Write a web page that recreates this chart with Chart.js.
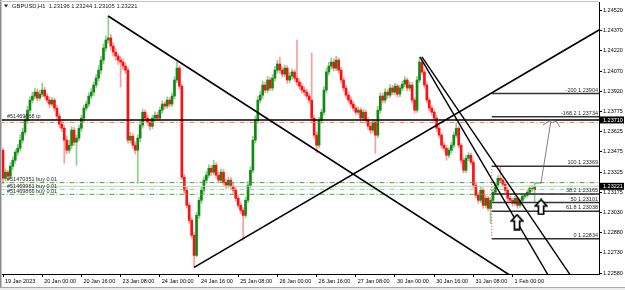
<!DOCTYPE html>
<html>
<head>
<meta charset="utf-8">
<script src="https://cdn.jsdelivr.net/npm/chart.js@4.4.0/dist/chart.umd.min.js"></script>
<style>
  html, body { margin: 0; padding: 0; background: #fff; }
</style>
</head>
<body>
<canvas id="chart" width="625" height="290"></canvas>
<script>
const symbolTitle = "GBPUSD,H1";
const lastQuote = [1.23196, 1.23244, 1.23105, 1.23221];

// H1 bars, 19 Jan 2023 08:00 .. 1 Feb 2023 09:00
const opens = [
  1.23487,1.23280,1.23325,1.23295,1.23369,1.23413,1.23472,1.23502,1.23561,1.23620,
  1.23708,1.23782,1.23856,1.23886,1.23915,1.23871,1.23900,1.23930,1.23886,1.23856,
  1.23827,1.23856,1.23797,1.23738,1.23679,1.23649,1.23561,1.23487,1.23524,1.23635,
  1.23546,1.23576,1.23649,1.23723,1.23797,1.23827,1.23886,1.23915,1.23967,1.24018,
  1.24077,1.24151,1.24240,1.24299,1.24314,1.24254,1.24210,1.24181,1.24151,1.24136,
  1.24107,1.24077,1.23561,1.23590,1.23524,1.23487,1.23576,1.23672,1.23767,1.23723,
  1.23694,1.23664,1.23723,1.23745,1.23723,1.23782,1.23827,1.23812,1.23856,1.23827,
  1.23886,1.24004,1.24092,1.23959,1.23288,1.23192,1.23081,1.22970,1.22860,1.22712,
  1.23007,1.23118,1.23192,1.23266,1.23303,1.23354,1.23325,1.23376,1.23303,1.23266,
  1.23325,1.23251,1.23229,1.23266,1.23221,1.23192,1.23133,1.23081,1.23044,1.23007,
  1.23118,1.23229,1.23339,1.23561,1.23708,1.23856,1.23893,1.23967,1.23930,1.24004,
  1.23945,1.24018,1.24077,1.24122,1.24077,1.24048,1.24092,1.24004,1.24033,1.24063,
  1.24018,1.23989,1.23959,1.23930,1.23915,1.23886,1.23856,1.23723,1.23598,1.23524,
  1.23708,1.23767,1.23930,1.24063,1.24107,1.24136,1.24092,1.24151,1.24077,1.24004,
  1.23945,1.23893,1.23856,1.23827,1.23797,1.23767,1.23782,1.23723,1.23767,1.23708,
  1.23664,1.23635,1.23694,1.23598,1.23782,1.23886,1.23856,1.23915,1.23893,1.23945,
  1.23915,1.23959,1.23900,1.23945,1.23974,1.24004,1.23945,1.23967,1.23856,1.23782,
  1.24004,1.24136,1.24063,1.23967,1.23856,1.23797,1.23767,1.23723,1.23649,1.23598,
  1.23524,1.23502,1.23450,1.23487,1.23524,1.23598,1.23649,1.23524,1.23413,1.23339,
  1.23428,1.23450,1.23398,1.23229,1.23155,1.23118,1.23192,1.23081,1.23133,1.23059,
  1.23118,1.23177,1.23229,1.23280,1.23266,1.23236,1.23192,1.23133,1.23118,1.23096,
  1.23133,1.23081,1.23118,1.23148,1.23155,1.23177,1.23207,1.23196
];
const highs = [
  1.23500,1.23350,1.23340,1.23395,1.23440,1.23490,1.23530,1.23600,1.23650,1.23740,
  1.23810,1.23880,1.23915,1.23945,1.23940,1.23930,1.23981,1.23950,1.23905,1.23880,
  1.23875,1.23870,1.23820,1.23760,1.23700,1.23670,1.23590,1.23560,1.23660,1.23655,
  1.23600,1.23670,1.23745,1.23820,1.23850,1.23910,1.23940,1.23990,1.24045,1.24110,
  1.24180,1.24270,1.24330,1.24476,1.24340,1.24280,1.24235,1.24200,1.24175,1.24160,
  1.24130,1.24095,1.23620,1.23610,1.23550,1.23600,1.23700,1.23790,1.23785,1.23745,
  1.23720,1.23745,1.23770,1.23765,1.23805,1.23850,1.23845,1.23880,1.23875,1.23910,
  1.24030,1.24136,1.24110,1.23975,1.23310,1.23215,1.23100,1.22990,1.22880,1.23030,
  1.23140,1.23215,1.23290,1.23330,1.23380,1.23375,1.23413,1.23395,1.23325,1.23350,
  1.23345,1.23275,1.23290,1.23285,1.23245,1.23210,1.23155,1.23100,1.23065,1.23140,
  1.23255,1.23365,1.23590,1.23740,1.23885,1.23920,1.23995,1.23990,1.24030,1.24025,
  1.24045,1.24105,1.24150,1.24173,1.24100,1.24115,1.24110,1.24060,1.24085,1.24080,
  1.24299,1.24010,1.23980,1.23955,1.23935,1.23905,1.24203,1.23745,1.23620,1.23730,
  1.23790,1.23955,1.24090,1.24135,1.24165,1.24160,1.24180,1.24170,1.24100,1.24025,
  1.23965,1.23915,1.23880,1.23850,1.23815,1.23805,1.23800,1.23790,1.23785,1.23730,
  1.23685,1.23715,1.23710,1.23810,1.23910,1.23905,1.23940,1.23935,1.23970,1.23965,
  1.23980,1.23975,1.23965,1.23995,1.24030,1.24020,1.23990,1.23985,1.23875,1.24030,
  1.24173,1.24150,1.24080,1.23985,1.23875,1.23815,1.23785,1.23745,1.23670,1.23615,
  1.23545,1.23520,1.23505,1.23545,1.23620,1.23686,1.23665,1.23540,1.23430,1.23450,
  1.23470,1.23465,1.23415,1.23250,1.23175,1.23215,1.23210,1.23155,1.23150,1.23140,
  1.23200,1.23250,1.23300,1.23362,1.23285,1.23255,1.23210,1.23150,1.23135,1.23150,
  1.23145,1.23135,1.23165,1.23170,1.23195,1.23225,1.23225,1.23244
];
const lows = [
  1.23243,1.23260,1.23266,1.23275,1.23345,1.23390,1.23450,1.23480,1.23540,1.23600,
  1.23685,1.23760,1.23835,1.23865,1.23850,1.23855,1.23880,1.23865,1.23835,1.23800,
  1.23810,1.23775,1.23715,1.23655,1.23625,1.23391,1.23460,1.23465,1.23500,1.23520,
  1.23376,1.23555,1.23625,1.23700,1.23775,1.23805,1.23865,1.23890,1.23945,1.23995,
  1.24050,1.24125,1.24215,1.24275,1.24225,1.24180,1.24150,1.24120,1.23952,1.24080,
  1.24050,1.23539,1.23540,1.23500,1.23460,1.23243,1.23550,1.23650,1.23700,1.23670,
  1.23635,1.23645,1.23700,1.23705,1.23705,1.23760,1.23790,1.23795,1.23805,1.23810,
  1.23865,1.23985,1.23940,1.23270,1.23170,1.23060,1.22950,1.22840,1.22624,1.22700,
  1.22985,1.23095,1.23170,1.23245,1.23285,1.23300,1.23305,1.23280,1.23245,1.23250,
  1.23230,1.23205,1.23210,1.23200,1.23170,1.23110,1.23060,1.23020,1.22823,1.22990,
  1.23100,1.23210,1.23320,1.23540,1.23685,1.23835,1.23870,1.23910,1.23910,1.23925,
  1.23925,1.23995,1.24055,1.24055,1.24025,1.24030,1.23980,1.23985,1.24010,1.23995,
  1.23965,1.23935,1.23905,1.23890,1.23865,1.23835,1.23700,1.23575,1.23465,1.23505,
  1.23685,1.23745,1.23910,1.24040,1.24085,1.24070,1.24075,1.24055,1.23980,1.23920,
  1.23870,1.23835,1.23805,1.23775,1.23745,1.23750,1.23700,1.23705,1.23685,1.23640,
  1.23610,1.23615,1.23465,1.23580,1.23760,1.23835,1.23835,1.23870,1.23875,1.23895,
  1.23895,1.23880,1.23880,1.23925,1.23955,1.23925,1.23925,1.23835,1.23760,1.23765,
  1.23985,1.24045,1.23945,1.23835,1.23775,1.23745,1.23700,1.23625,1.23575,1.23500,
  1.23480,1.23413,1.23430,1.23465,1.23505,1.23580,1.23505,1.23390,1.23320,1.23320,
  1.23410,1.23380,1.23210,1.23135,1.23095,1.23100,1.23060,1.23065,1.23040,1.22948,
  1.23100,1.23160,1.23210,1.23245,1.23215,1.23175,1.23110,1.23100,1.23075,1.23080,
  1.23060,1.23065,1.23100,1.23130,1.23140,1.23160,1.23180,1.23105
];
const closes = [
  1.23280,1.23325,1.23295,1.23369,1.23413,1.23472,1.23502,1.23561,1.23620,1.23708,
  1.23782,1.23856,1.23886,1.23915,1.23871,1.23900,1.23930,1.23886,1.23856,1.23827,
  1.23856,1.23797,1.23738,1.23679,1.23649,1.23561,1.23487,1.23524,1.23635,1.23546,
  1.23576,1.23649,1.23723,1.23797,1.23827,1.23886,1.23915,1.23967,1.24018,1.24077,
  1.24151,1.24240,1.24299,1.24314,1.24254,1.24210,1.24181,1.24151,1.24136,1.24107,
  1.24077,1.23561,1.23590,1.23524,1.23487,1.23576,1.23672,1.23767,1.23723,1.23694,
  1.23664,1.23723,1.23745,1.23723,1.23782,1.23827,1.23812,1.23856,1.23827,1.23886,
  1.24004,1.24092,1.23959,1.23288,1.23192,1.23081,1.22970,1.22860,1.22712,1.23007,
  1.23118,1.23192,1.23266,1.23303,1.23354,1.23325,1.23376,1.23303,1.23266,1.23325,
  1.23251,1.23229,1.23266,1.23221,1.23192,1.23133,1.23081,1.23044,1.23007,1.23118,
  1.23229,1.23339,1.23561,1.23708,1.23856,1.23893,1.23967,1.23930,1.24004,1.23945,
  1.24018,1.24077,1.24122,1.24077,1.24048,1.24092,1.24004,1.24033,1.24063,1.24018,
  1.23989,1.23959,1.23930,1.23915,1.23886,1.23856,1.23723,1.23598,1.23524,1.23708,
  1.23767,1.23930,1.24063,1.24107,1.24136,1.24092,1.24151,1.24077,1.24004,1.23945,
  1.23893,1.23856,1.23827,1.23797,1.23767,1.23782,1.23723,1.23767,1.23708,1.23664,
  1.23635,1.23694,1.23598,1.23782,1.23886,1.23856,1.23915,1.23893,1.23945,1.23915,
  1.23959,1.23900,1.23945,1.23974,1.24004,1.23945,1.23967,1.23856,1.23782,1.24004,
  1.24136,1.24063,1.23967,1.23856,1.23797,1.23767,1.23723,1.23649,1.23598,1.23524,
  1.23502,1.23450,1.23487,1.23524,1.23598,1.23649,1.23524,1.23413,1.23339,1.23428,
  1.23450,1.23398,1.23229,1.23155,1.23118,1.23192,1.23081,1.23133,1.23059,1.23118,
  1.23177,1.23229,1.23280,1.23266,1.23236,1.23192,1.23133,1.23118,1.23096,1.23133,
  1.23081,1.23118,1.23148,1.23155,1.23177,1.23207,1.23196,1.23221
];

// axes
const timeTicks = [0, 16, 32, 48, 64, 80, 96, 112, 128, 144, 160, 176, 192, 208];
const timeLabels = ["19 Jan 2023", "20 Jan 00:00", "20 Jan 16:00", "23 Jan 08:00", "24 Jan 00:00",
  "24 Jan 16:00", "25 Jan 08:00", "26 Jan 00:00", "26 Jan 16:00", "27 Jan 08:00",
  "30 Jan 00:00", "30 Jan 16:00", "31 Jan 08:00", "1 Feb 00:00"];
const priceTicks = [1.24520, 1.24370, 1.24220, 1.24070, 1.23920, 1.23775, 1.23625,
  1.23475, 1.23325, 1.23175, 1.23030, 1.22880, 1.22730, 1.22580];
const priceMin = 1.22575, priceMax = 1.24579;
const barMin = -0.41, barMax = 243.27;

// order lines
const orderLabels = ["#51469868 tp", "#51470351 buy 0.01", "#51469961 buy 0.01", "#51469866 buy 0.01"];
const orderPrices = [1.23710, 1.23248, 1.23199, 1.23162];
const openLine = 1.23692;
const bidPrice = 1.23221;

// fibonacci
const fibNames = ["-200", "-168.2", "100", "38.2", "50", "61.8", "0"];
const fibPrices = [1.23904, 1.23734, 1.23369, 1.23165, 1.23101, 1.23038, 1.22834];
const fibStart = 199.5;

// trend lines [bar, price] pairs
const trendA = [[42.9, 1.24476], [208.3, 1.22550]];
const trendB = [[78, 1.22624], [245, 1.24391]];
const trendC1 = [[170.2, 1.24174], [223.05, 1.22550]];
const trendC2 = [[171.0, 1.24174], [232.2, 1.22550]];

// hand drawn arrow and arrow marks
const pathBars = [217.1, 219.6, 223.7];
const pathPrices = [1.23245, 1.23245, 1.23710];
const headBars = [220.4, 223.7, 226.1, 227.3];
const headPrices = [1.23673, 1.23710, 1.23695, 1.23658];
const arrowBars = [209.8, 219.6];
const arrowPrices = [1.22958, 1.23069];

const FONT = '"Liberation Sans", Arial, sans-serif';
Chart.defaults.font.family = FONT;
Chart.defaults.font.size = 5.5;
Chart.defaults.color = "#000";

let up = closes.map((c, i) => c >= opens[i]);
let wicks = opens.map((o, i) => ({ x: i, y: [lows[i], highs[i]] }));
let bodies = opens.map((o, i) => ({ x: i, y: [o, closes[i]] }));

function seg(points, color, width, dash, order) {
  return {
    type: "line",
    data: points.map(p => ({ x: p[0], y: p[1] })),
    borderColor: color,
    borderWidth: width,
    borderDash: dash || [],
    pointRadius: 0,
    fill: false,
    tension: 0,
    clip: 0,
    order: order === undefined ? 5 : order
  };
}

function hline(price, color, width, dash) {
  return seg([[barMin - 1, price], [barMax + 1, price]], color, width, dash, 10);
}

function makeArrow() {
  let c = document.createElement("canvas");
  c.width = 14;
  c.height = 17;
  let g = c.getContext("2d");
  g.beginPath();
  g.moveTo(7, 1.2);
  g.lineTo(12.8, 7.5);
  g.lineTo(9.6, 7.5);
  g.lineTo(9.6, 15.8);
  g.lineTo(4.4, 15.8);
  g.lineTo(4.4, 7.5);
  g.lineTo(1.2, 7.5);
  g.closePath();
  g.fillStyle = "#fff";
  g.fill();
  g.lineWidth = 1.7;
  g.strokeStyle = "#000";
  g.stroke();
  return c;
}

let datasets = [
  {
    type: "bar",
    data: wicks,
    backgroundColor: up.map(u => u ? "#8fce8f" : "#ff9b9b"),
    barThickness: 1,
    grouped: false,
    order: 20
  },
  {
    type: "bar",
    data: bodies,
    backgroundColor: up.map(u => u ? "#118a11" : "#ff0f0f"),
    barThickness: 2,
    minBarLength: 1,
    grouped: false,
    order: 19
  },
  hline(orderPrices[0], "#000", 1.5),
  hline(openLine, "#ee7d55", 1, [5, 2, 1, 2]),
  hline(orderPrices[1], "#43a043", 1, [5, 2, 1, 2]),
  hline(bidPrice, "#c9c9c9", 1),
  hline(orderPrices[2], "#96cf96", 1, [5, 2, 1, 2]),
  hline(orderPrices[3], "#43a043", 1, [5, 2, 1, 2]),
  seg(trendA, "#000", 1.6),
  seg(trendB, "#000", 1.6),
  seg(trendC1, "#000", 1.4),
  seg(trendC2, "#000", 1.4),
  seg([[fibStart, fibPrices[6]], [fibStart, fibPrices[2]]], "#c85050", 1, [1, 2], 4),
  seg(pathBars.map((b, i) => [b, pathPrices[i]]), "#606060", 0.8, [], 4),
  seg(headBars.map((b, i) => [b, headPrices[i]]), "#606060", 0.8, [], 4)
];
fibPrices.forEach(p => datasets.push(seg([[fibStart, p], [barMax + 1, p]], "#333", 1.5, [], 6)));
datasets.push({
  type: "line",
  data: arrowBars.map((b, i) => ({ x: b, y: arrowPrices[i] })),
  showLine: false,
  pointStyle: makeArrow(),
  pointRadius: 7,
  clip: false,
  order: 0
});

const decor = {
  id: "decor",
  beforeDraw(chart) {
    let ctx = chart.ctx;
    ctx.save();
    ctx.fillStyle = "#fff";
    ctx.fillRect(0, 0, chart.width, chart.height);
    ctx.restore();
  },
  afterDatasetsDraw(chart) {
    let ctx = chart.ctx;
    let a = chart.chartArea;
    let y = chart.scales.y;
    ctx.save();
    ctx.font = "5.5px " + FONT;
    ctx.textBaseline = "bottom";
    ctx.fillStyle = "#2a2a2a";
    ctx.textAlign = "left";
    orderLabels.forEach((t, k) => {
      ctx.fillText(t, a.left + 5, y.getPixelForValue(orderPrices[k]) - 0.5);
    });
    ctx.textAlign = "right";
    fibNames.forEach((n, k) => {
      ctx.fillText(n + " " + fibPrices[k].toFixed(5), a.right - 1, y.getPixelForValue(fibPrices[k]) - 0.5);
    });
    // header
    ctx.font = "5.8px " + FONT;
    ctx.textAlign = "left";
    ctx.textBaseline = "middle";
    ctx.fillStyle = "#1a1a1a";
    ctx.fillText(symbolTitle + "  " + lastQuote.map(v => v.toFixed(5)).join(" "), 12, 6.5);
    ctx.beginPath();
    ctx.moveTo(4, 4.5);
    ctx.lineTo(8, 4.5);
    ctx.lineTo(6, 7.5);
    ctx.closePath();
    ctx.fill();
    ctx.restore();
  },
  afterDraw(chart) {
    let ctx = chart.ctx;
    let a = chart.chartArea;
    let y = chart.scales.y;
    ctx.save();
    ctx.font = "5.5px " + FONT;
    ctx.textAlign = "left";
    ctx.textBaseline = "middle";
    [orderPrices[0], bidPrice].forEach(p => {
      let py = y.getPixelForValue(p);
      ctx.fillStyle = "#000";
      ctx.fillRect(a.right, py - 3.5, 25, 7);
      ctx.fillStyle = "#fff";
      ctx.fillText(p.toFixed(5), a.right + 4, py + 0.3);
    });
    // window frame
    ctx.fillStyle = "#8c8c8c";
    ctx.fillRect(0, 0, 1.5, 287);
    ctx.fillStyle = "#c4c4c4";
    ctx.fillRect(0, 1, a.right, 1);
    ctx.fillStyle = "#ececec";
    ctx.fillRect(0, 287, chart.width, 3);
    ctx.fillStyle = "#a8a8a8";
    ctx.fillRect(0, 287, chart.width, 1);
    ctx.restore();
  }
};

new Chart(document.getElementById("chart"), {
  type: "bar",
  data: { datasets: datasets },
  options: {
    responsive: false,
    animation: false,
    events: [],
    layout: { autoPadding: false, padding: { top: 2, left: 2, right: 0, bottom: 0 } },
    plugins: { legend: { display: false }, tooltip: { enabled: false } },
    scales: {
      x: {
        type: "linear",
        position: "bottom",
        min: barMin,
        max: barMax,
        offset: false,
        bounds: "data",
        grid: { display: true, offset: false, drawOnChartArea: false, drawTicks: true, tickLength: 3, color: "#000" },
        border: { display: true, color: "#000", width: 1 },
        ticks: {
          autoSkip: false,
          maxRotation: 0,
          align: "start",
          labelOffset: 2,
          padding: 1,
          color: "#000",
          callback: v => {
            let k = timeTicks.indexOf(v);
            return k >= 0 ? timeLabels[k] : "";
          }
        },
        afterBuildTicks: ax => { ax.ticks = timeTicks.map(v => ({ value: v })); },
        afterFit: ax => { ax.height = 16; ax.paddingLeft = 0; ax.paddingRight = 0; }
      },
      y: {
        type: "linear",
        position: "right",
        min: priceMin,
        max: priceMax,
        beginAtZero: false,
        bounds: "data",
        grid: { display: true, drawOnChartArea: false, drawTicks: true, tickLength: 3, color: "#000" },
        border: { display: true, color: "#000", width: 1 },
        ticks: {
          autoSkip: false,
          padding: 1,
          color: "#000",
          callback: v => v.toFixed(5)
        },
        afterBuildTicks: ax => { ax.ticks = priceTicks.map(v => ({ value: v })); },
        afterFit: ax => { ax.width = 26; ax.paddingTop = 0; ax.paddingBottom = 0; }
      }
    }
  },
  plugins: [decor]
});
</script>
</body>
</html>
